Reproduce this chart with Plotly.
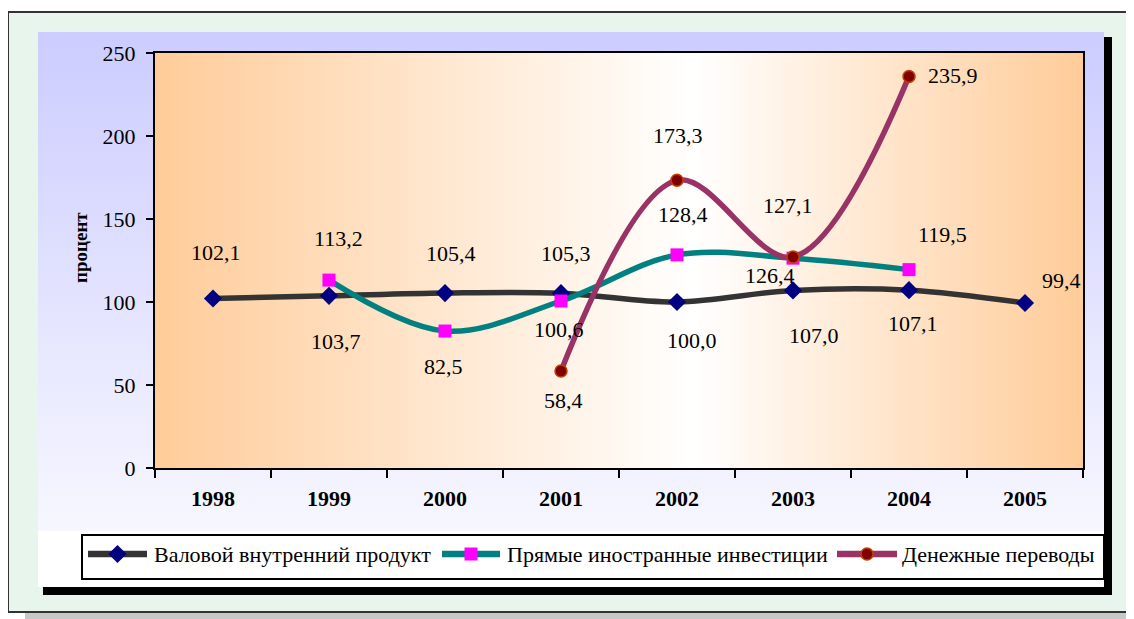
import plotly.graph_objects as go

# ---------------- data ----------------
years = ["1998", "1999", "2000", "2001", "2002", "2003", "2004", "2005"]

gdp_years = ["1998", "1999", "2000", "2001", "2002", "2003", "2004", "2005"]
gdp_values = [102.1, 103.7, 105.4, 105.3, 100.0, 107.0, 107.1, 99.4]

fdi_years = ["1999", "2000", "2001", "2002", "2003", "2004"]
fdi_values = [113.2, 82.5, 100.6, 128.4, 126.4, 119.5]

rem_years = ["2001", "2002", "2003", "2004"]
rem_values = [58.4, 173.3, 127.1, 235.9]

series_names = ["Валовой внутренний продукт",
                "Прямые иностранные инвестиции",
                "Денежные переводы"]
y_title = "процент"
y_ticks = [0, 50, 100, 150, 200, 250]

# label offsets in pixels (dx right, dy down) per point
gdp_offsets = [(3, -46), (7, 46), (6, -40), (5, -40), (15, 38), (21, 45), (4, 33), (36, -23)]
fdi_offsets = [(9, -42), (-2, 35), (-2, 28), (6, -40), (-23, 17), (33, -35)]
rem_offsets = [(2, 29), (1, -45), (-5, -52), (44, -1)]

W, H = 1134, 619
OFF = 8  # the page body margin shifts the figure by 8px; compensate
SERIF = "Liberation Serif"

# styles
GDP_LINE, GDP_MARK = "#333333", "#000080"
FDI_LINE, FDI_MARK = "#008080", "#FF00FF"
REM_LINE, REM_MARK, REM_EDGE = "#993366", "#800000", "#C04000"

fig = go.Figure()

# ---------- background (screen-pixel axes x/y) ----------
def rect_trace(x0, y0, x1, y1, grad):
    return go.Scatter(
        x=[x0, x1, x1, x0, x0], y=[y0, y0, y1, y1, y0],
        xaxis="x", yaxis="y", mode="lines", line=dict(width=0),
        fill="toself", fillgradient=grad, hoverinfo="skip", showlegend=False)

# lavender chart area
fig.add_trace(rect_trace(38, 32, 1104, 531, dict(
    type="vertical", start=32, stop=531,
    colorscale=[[0, "#CCCCFF"], [1, "#F7F7FF"]])))
# plot area orange-white-orange
fig.add_trace(rect_trace(155, 53, 1083, 468, dict(
    type="horizontal", start=155, stop=1083,
    colorscale=[[0, "#FFCC99"], [0.58, "#FFFFFF"], [1, "#FFCC99"]])))

shapes = [
    dict(type="rect", xref="x", yref="y", x0=8, x1=1160, y0=12, y1=612,
         fillcolor="#E8F5EC", line=dict(color="#333333", width=2), layer="below"),
    dict(type="rect", xref="x", yref="y", x0=25, x1=1160, y0=613, y1=630,
         fillcolor="#C8C8C8", line=dict(width=0), layer="below"),
    dict(type="rect", xref="x", yref="y", x0=38, x1=1104, y0=531, y1=587,
         fillcolor="#FFFFFF", line=dict(width=0), layer="below"),
    dict(type="rect", xref="x", yref="y", x0=1104, x1=1112, y0=37, y1=595,
         fillcolor="#000000", line=dict(width=0), layer="below"),
    dict(type="rect", xref="x", yref="y", x0=43, x1=1112, y0=587, y1=595,
         fillcolor="#000000", line=dict(width=0), layer="below"),
    dict(type="rect", xref="x", yref="y", x0=82, x1=1104, y0=535, y1=579,
         fillcolor="#FFFFFF", line=dict(color="#000000", width=2), layer="below"),
]

# ---------- custom legend (on pixel axes) ----------
legend_specs = [
    (88, 147, 152, GDP_LINE, dict(symbol="diamond", size=14, color=GDP_MARK)),
    (442, 500, 505, FDI_LINE, dict(symbol="square", size=13, color=FDI_MARK)),
    (837, 897, 900, REM_LINE, dict(symbol="circle", size=12, color=REM_MARK,
                                   line=dict(color=REM_EDGE, width=1.5))),
]
annotations = []
LEG_Y = 554
for (lx0, lx1, tx, lc, mk), name in zip(legend_specs, series_names):
    fig.add_trace(go.Scatter(x=[lx0, lx1], y=[LEG_Y, LEG_Y], xaxis="x", yaxis="y",
                             mode="lines", line=dict(color=lc, width=6.5),
                             hoverinfo="skip", showlegend=False))
    fig.add_trace(go.Scatter(x=[(lx0 + lx1) / 2], y=[LEG_Y], xaxis="x", yaxis="y",
                             mode="markers", marker=mk, hoverinfo="skip", showlegend=False))
    annotations.append(dict(xref="x", yref="y", x=tx, y=LEG_Y, text=name,
                            showarrow=False, xanchor="left", yanchor="middle",
                            font=dict(family=SERIF, size=22, color="black")))

# y-axis title
annotations.append(dict(xref="x", yref="y", x=80, y=248, text=y_title, textangle=-90,
                        showarrow=False, font=dict(family=SERIF, size=19, color="black",
                                                   weight="bold")))

# ---------- data series ----------
fig.add_trace(go.Scatter(x=gdp_years, y=gdp_values, name=series_names[0],
                         xaxis="x2", yaxis="y2", mode="lines+markers",
                         line=dict(color=GDP_LINE, width=5.5, shape="spline", smoothing=1),
                         marker=dict(symbol="diamond", size=14, color=GDP_MARK),
                         showlegend=False))
fig.add_trace(go.Scatter(x=fdi_years, y=fdi_values, name=series_names[1],
                         xaxis="x2", yaxis="y2", mode="lines+markers",
                         line=dict(color=FDI_LINE, width=5.5, shape="spline", smoothing=1),
                         marker=dict(symbol="square", size=13, color=FDI_MARK),
                         showlegend=False))
fig.add_trace(go.Scatter(x=rem_years, y=rem_values, name=series_names[2],
                         xaxis="x2", yaxis="y2", mode="lines+markers",
                         line=dict(color=REM_LINE, width=5.5, shape="spline", smoothing=1),
                         marker=dict(symbol="circle", size=12, color=REM_MARK,
                                     line=dict(color=REM_EDGE, width=1.5)),
                         showlegend=False))

def fmt(v):
    return f"{v:.1f}".replace(".", ",")

for xs, vs, offs in [(gdp_years, gdp_values, gdp_offsets),
                     (fdi_years, fdi_values, fdi_offsets),
                     (rem_years, rem_values, rem_offsets)]:
    for xv, v, (dx, dy) in zip(xs, vs, offs):
        annotations.append(dict(xref="x2", yref="y2", x=years.index(xv), y=v, text=fmt(v),
                                showarrow=False, xshift=dx, yshift=-dy,
                                font=dict(family=SERIF, size=22, color="black")))

# plot-area edges in screen pixels
PX0, PX1, PY0, PY1 = 155, 1083, 53, 468

fig.update_layout(
    width=W, height=H, autosize=False, margin=dict(l=0, r=0, t=0, b=0, pad=0),
    paper_bgcolor="white", plot_bgcolor="rgba(0,0,0,0)",
    showlegend=False, shapes=shapes, annotations=annotations,
    xaxis=dict(domain=[0, 1], range=[OFF, W + OFF], visible=False, fixedrange=True,
               automargin=False),
    yaxis=dict(domain=[0, 1], range=[H + OFF, OFF], visible=False, fixedrange=True,
               automargin=False),
    xaxis2=dict(domain=[(PX0 - OFF) / W, (PX1 - OFF) / W], anchor="y2", type="category",
                categoryorder="array", categoryarray=years, range=[-0.5, 7.5],
                tickson="boundaries", ticks="outside", ticklen=8, tickwidth=2,
                tickcolor="black", showline=True, linewidth=2, linecolor="black",
                mirror=True, showgrid=False, zeroline=False, ticklabelstandoff=10,
                tickfont=dict(family=SERIF, size=22, color="black", weight="bold"),
                fixedrange=True, automargin=False),
    yaxis2=dict(domain=[(H - (PY1 - OFF)) / H, (H - (PY0 - OFF)) / H], anchor="x2",
                range=[0, 250],
                tickvals=y_ticks, ticks="outside", ticklen=7, tickwidth=2,
                tickcolor="black", showline=True, linewidth=2, linecolor="black",
                mirror=True, showgrid=False, zeroline=False, ticklabelstandoff=6,
                tickfont=dict(family=SERIF, size=22, color="black"),
                fixedrange=True, automargin=False),
)

fig.write_html("out.html")
